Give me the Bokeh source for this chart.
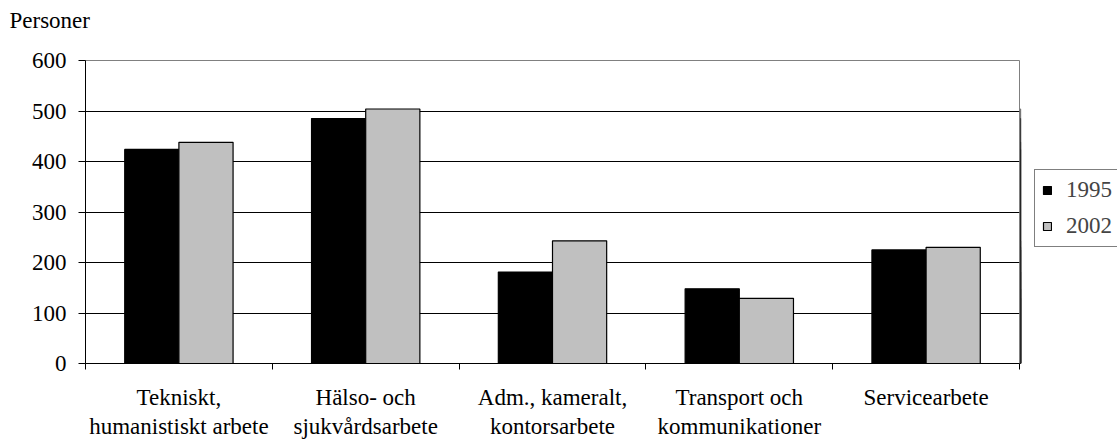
import numpy as np
from bokeh.plotting import figure
from bokeh.layouts import row, column
from bokeh.models import Range1d, FixedTicker, Legend, LegendItem, Label
from bokeh.embed import file_html
from bokeh.resources import INLINE

categories = ["Tekniskt,\nhumanistiskt arbete", "Hälso- och\nsjukvårdsarbete",
              "Adm., kameralt,\nkontorsarbete", "Transport och\nkommunikationer",
              "Servicearbete"]
v1995 = [424, 485, 181, 148, 225]
v2002 = [438, 504, 243, 129, 230]
series_names = ["1995", "2002"]
y_ticks = [0, 100, 200, 300, 400, 500, 600]
y_title = "Personer"

FONT = "Liberation Serif"
FS = "23px"

n = len(categories)
idx = np.arange(n)
centers = idx + 0.5
bw = 0.29

# strip above the chart holding the unit text
p0 = figure(width=1117, height=36, output_backend="svg", toolbar_location=None,
            x_axis_type=None, y_axis_type=None, min_border=0,
            x_range=Range1d(0, 1), y_range=Range1d(0, 1))
p0.grid.grid_line_color = None
p0.outline_line_color = None
p0.background_fill_color = "white"
p0.border_fill_color = "white"
p0.add_layout(Label(x=9, y=16, x_units="screen", y_units="screen", text=y_title,
                    text_font=FONT, text_font_size=FS, text_color="black",
                    text_baseline="middle", text_align="left"))

p = figure(width=1020, height=406, output_backend="svg", toolbar_location=None,
           x_range=Range1d(0, n), y_range=Range1d(0, 600),
           min_border_left=85, min_border_right=1, min_border_top=24,
           min_border_bottom=79)
p.background_fill_color = "white"
p.border_fill_color = "white"
p.outline_line_color = "#808080"
p.outline_line_width = 1

r1 = p.vbar(x=centers - bw / 2, top=v1995, width=bw, fill_color="black",
            line_color="black", line_width=1.2)
r2 = p.vbar(x=centers + bw / 2, top=v2002, width=bw, fill_color="#C0C0C0",
            line_color="black", line_width=1.2)

# y axis
p.yaxis.ticker = FixedTicker(ticks=y_ticks)
p.yaxis.major_tick_out = 7
p.yaxis.major_tick_in = 0
p.yaxis.minor_tick_out = 0
p.yaxis.minor_tick_in = 0
p.yaxis.major_label_standoff = 12
p.yaxis.major_label_text_font = FONT
p.yaxis.major_label_text_font_size = FS
p.yaxis.major_label_text_color = "black"
p.yaxis.axis_line_color = "black"
p.yaxis.major_tick_line_color = "black"

# x axis: labels at category centres, ticks at category boundaries
p.xaxis.ticker = FixedTicker(ticks=list(centers), minor_ticks=list(range(n + 1)))
p.xaxis.major_label_overrides = {float(c): lab for c, lab in zip(centers, categories)}
p.xaxis.major_tick_out = 0
p.xaxis.major_tick_in = 0
p.xaxis.minor_tick_out = 6
p.xaxis.minor_tick_in = 0
p.xaxis.minor_tick_line_color = "black"
p.xaxis.major_label_standoff = 15
p.xaxis.major_label_text_font = FONT
p.xaxis.major_label_text_font_size = FS
p.xaxis.major_label_text_color = "black"
p.xaxis.major_label_text_line_height = 1.19
p.xaxis.axis_line_color = "black"

p.xgrid.grid_line_color = None
p.ygrid.ticker = FixedTicker(ticks=y_ticks)
p.ygrid.grid_line_color = "black"
p.ygrid.grid_line_width = 1

# legend panel to the right of the plot area (its bars lie outside its view)
p2 = figure(width=97, height=406, output_backend="svg", toolbar_location=None,
            x_axis_type=None, y_axis_type=None, min_border=0,
            x_range=Range1d(2 * n, 2 * n + 1), y_range=Range1d(0, 600))
p2.grid.grid_line_color = None
p2.outline_line_color = None
p2.background_fill_color = "white"
p2.border_fill_color = "white"
lr1 = p2.vbar(x=centers - bw / 2, top=v1995, width=bw, fill_color="black",
              line_color="black", line_width=1.2)
lr2 = p2.vbar(x=centers + bw / 2, top=v2002, width=bw, fill_color="#C0C0C0",
              line_color="black", line_width=1.2)
legend = Legend(items=[LegendItem(label=series_names[0], renderers=[lr1]),
                       LegendItem(label=series_names[1], renderers=[lr2])],
                location=(14, 116), orientation="vertical",
                label_text_font=FONT, label_text_font_size=FS,
                glyph_width=10, glyph_height=10, label_standoff=14,
                label_width=70, padding=7, spacing=10, margin=0,
                border_line_color="black", border_line_width=1,
                background_fill_color="white", background_fill_alpha=1)
p2.add_layout(legend, "center")

open("out.html", "w").write(file_html(column(p0, row(p, p2)), INLINE))
